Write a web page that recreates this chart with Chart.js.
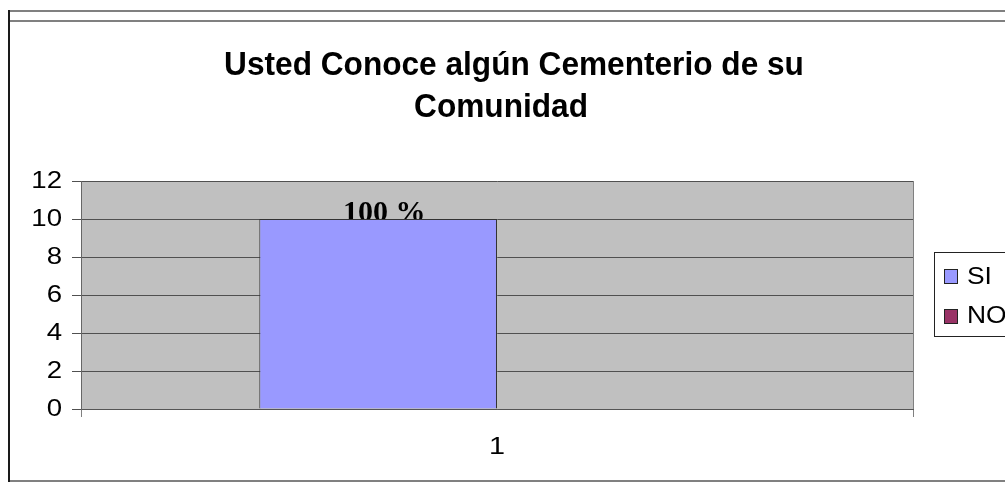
<!DOCTYPE html>
<html>
<head>
<meta charset="utf-8">
<script src="https://cdn.jsdelivr.net/npm/chart.js@4/dist/chart.umd.min.js"></script>
<style>
  html, body { margin: 0; padding: 0; background: #ffffff; }
  #wrap { width: 1005px; height: 482px; position: relative; }
</style>
</head>
<body>
<div id="wrap"><canvas id="c" width="1005" height="482"></canvas></div>
<script>
// ---- data ----
const titleLines = ['Usted Conoce algún Cementerio de su', 'Comunidad'];
const categories = ['1'];
const seriesNames = ['SI', 'NO'];
const siValues = [10];
const noValues = [0];
const siLabels = ['100 %'];
const yTicks = [0, 2, 4, 6, 8, 10, 12];

const SANS = '"Liberation Sans", Arial, sans-serif';
const SERIF = '"Liberation Serif", "Times New Roman", serif';

// horizontally stretch a scale's labels around a fixed x (keeps the library's own label drawing)
function stretchLabels(s, getX, k) {
  if (s._stretched) return;
  s._stretched = true;
  const orig = s.drawLabels.bind(s);
  s.drawLabels = function (area) {
    const ctx = s.ctx;
    const x0 = getX(s);
    ctx.save();
    ctx.translate(x0, 0);
    ctx.scale(k, 1);
    ctx.translate(-x0, 0);
    orig(area);
    ctx.restore();
  };
}

const framePlugin = {
  id: 'frame',
  beforeDraw(chart) {
    const ctx = chart.ctx, a = chart.chartArea;
    ctx.save();
    ctx.fillStyle = '#ffffff';
    ctx.fillRect(0, 0, chart.width, chart.height);
    // plot background
    ctx.fillStyle = '#C0C0C0';
    ctx.fillRect(a.left, a.top, a.right - a.left, a.bottom - a.top);
    // outer frame
    ctx.strokeStyle = '#808080';
    ctx.lineWidth = 2;
    ctx.beginPath();
    ctx.moveTo(8, 11); ctx.lineTo(1005, 11);
    ctx.moveTo(8, 21); ctx.lineTo(1005, 21);
    ctx.moveTo(8, 481); ctx.lineTo(1005, 481);
    ctx.stroke();
    ctx.strokeStyle = '#1a1a1a';
    ctx.beginPath();
    ctx.moveTo(9, 10); ctx.lineTo(9, 482);
    ctx.stroke();
    // title (slightly condensed, tall bold sans)
    ctx.fillStyle = '#000000';
    ctx.font = 'bold 34px ' + SANS;
    ctx.textAlign = 'center';
    ctx.textBaseline = 'alphabetic';
    const k = 0.93;
    [[titleLines[0], 514, 75], [titleLines[1], 501, 117]].forEach(([t, x, y]) => {
      ctx.save();
      ctx.translate(x, y);
      ctx.scale(k, 1);
      ctx.fillText(t, 0, 0);
      ctx.restore();
    });
    ctx.restore();
  },
  beforeDatasetsDraw(chart) {
    const ctx = chart.ctx;
    const meta = chart.getDatasetMeta(0);
    ctx.save();
    ctx.fillStyle = '#000000';
    ctx.font = 'bold 30px ' + SERIF;
    ctx.textAlign = 'center';
    ctx.textBaseline = 'alphabetic';
    meta.data.forEach((bar, i) => {
      ctx.fillText(siLabels[i], bar.x + 6, bar.y + 2);
    });
    ctx.restore();
  },
  afterDraw(chart) {
    const ctx = chart.ctx;
    ctx.save();
    // legend box
    ctx.strokeStyle = '#222222';
    ctx.lineWidth = 1;
    ctx.strokeRect(934.5, 252.5, 100, 84);
    ctx.font = '24px ' + SANS;
    ctx.textAlign = 'left';
    ctx.textBaseline = 'middle';
    const ys = [276, 315.5];
    chart.data.datasets.forEach((ds, i) => {
      const y = Math.round(ys[i] - 7) + 0.5;
      ctx.fillStyle = ds.backgroundColor;
      ctx.fillRect(944.5, y, 13, 14);
      ctx.strokeStyle = '#222222';
      ctx.strokeRect(944.5, y, 13, 14);
      ctx.fillStyle = '#000000';
      ctx.save();
      ctx.translate(967, ys[i] + 1);
      ctx.scale(1.1, 1);
      ctx.fillText(ds.label, 0, 0);
      ctx.restore();
    });
    ctx.restore();
  }
};

new Chart(document.getElementById('c'), {
  type: 'bar',
  data: {
    labels: categories,
    datasets: [
      { label: seriesNames[0], data: siValues, backgroundColor: '#9999FF', borderColor: '#333333', borderWidth: 1 },
      { label: seriesNames[1], data: noValues, backgroundColor: '#993366', borderColor: '#333333', borderWidth: 0 }
    ]
  },
  options: {
    responsive: false,
    animation: false,
    events: [],
    layout: { padding: { left: 0, top: 181, right: 92, bottom: 0 } },
    datasets: { bar: { categoryPercentage: 2 / 3.5, barPercentage: 1 } },
    plugins: { legend: { display: false }, title: { display: false }, tooltip: { enabled: false } },
    scales: {
      x: {
        offset: true,
        afterFit(s) { s.height = 73; stretchLabels(s, sc => (sc.left + sc.right) / 2, 1.2); },
        grid: { offset: true, color: '#808080', lineWidth: 1, tickLength: 8, drawOnChartArea: true },
        border: { color: '#555555', width: 1 },
        ticks: { color: '#000000', font: { family: SANS, size: 24 }, padding: 16 }
      },
      y: {
        min: 0, max: 12,
        afterFit(s) { s.width = 81; stretchLabels(s, sc => sc.right - 19, 1.15); },
        afterBuildTicks(s) { s.ticks = yTicks.map(v => ({ value: v })); },
        grid: { color: '#505050', lineWidth: 1, tickLength: 9 },
        border: { color: '#666666', width: 1 },
        ticks: { color: '#000000', font: { family: SANS, size: 24 }, padding: 10 }
      }
    }
  },
  plugins: [framePlugin]
});
</script>
</body>
</html>
